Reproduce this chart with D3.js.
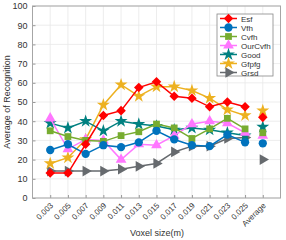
<!DOCTYPE html>
<html lang="en">
<head>
<meta charset="UTF-8">
<title>recognition</title>
<script src="https://cdn.jsdelivr.net/npm/d3@7"></script>
<style>
    body{ margin:0; background:#fff; }
    text{ font-family: "Liberation Sans", Arial, sans-serif; fill:#333; }
</style>
</head>
<body>
<script type="text/javascript">

    let categories = ["0.003","0.005","0.007","0.009","0.011","0.013","0.015","0.017","0.019","0.021","0.023","0.025","Average"];
    let yTicks = [0,10,20,30,40,50,60,70,80,90,100];

    let esf     = [13,13,28,43,45.5,57.5,60.5,53,52,47.5,50,47.5,42];
    let vfh     = [25,28,23,27.5,26.5,29,35,30.5,27.5,27,33,29,28.5];
    let cvfh    = [35,32,30,29.5,32.5,34.5,38.5,36.5,31,36,41.5,36,34];
    let ourCvfh = [41.5,25.5,30.5,30,20,28,27.5,32.5,38.5,40,39,34,32.5];
    let good    = [39,36.5,40,35,40,38.5,37.5,35.5,36.5,35.5,34,32.5,37];
    let gfpfg   = [18,21,30.5,48.5,59,53,58,58,56,52,46,43,45.5];
    let grsd    = [14,14,14,14,15,16.5,18,24,27,27,31,31.5,20];

    let series = [
        {name:"Esf",     values:esf,     color:"#ff0000", shape:"diamond"},
        {name:"Vfh",     values:vfh,     color:"#0072bd", shape:"circle"},
        {name:"Cvfh",    values:cvfh,    color:"#77ac30", shape:"square"},
        {name:"OurCvfh", values:ourCvfh, color:"#ff77ff", shape:"triangle"},
        {name:"Good",    values:good,    color:"#008080", shape:"star"},
        {name:"Gfpfg",   values:gfpfg,   color:"#edb120", shape:"star"},
        {name:"Grsd",    values:grsd,    color:"#666a6e", shape:"right"}
    ];

    let width = 286, height = 240;
    let pLeft = 32.5, pRight = 280.5, pTop = 6, pBottom = 198;

    let svg = d3.select("body").append("svg")
        .attr("width", width)
        .attr("height", height);

    let x = d3.scaleLinear().domain([-1, categories.length]).range([pLeft, pRight]);
    let y = d3.scaleLinear().domain([0, 100]).range([pBottom, pTop]);

    // grid
    svg.append("g").selectAll("line").data(categories).join("line")
        .attr("x1", (d,i)=>x(i)).attr("x2", (d,i)=>x(i))
        .attr("y1", pTop).attr("y2", pBottom)
        .attr("stroke", "#e8e8e8").attr("stroke-width", 0.8);
    svg.append("g").selectAll("line").data(yTicks).join("line")
        .attr("x1", pLeft).attr("x2", pRight)
        .attr("y1", d=>y(d)).attr("y2", d=>y(d))
        .attr("stroke", "#e8e8e8").attr("stroke-width", 0.8);

    // y axis
    let yAxis = d3.axisLeft(y).tickValues(yTicks).tickSize(-3).tickPadding(5);
    let yg = svg.append("g").attr("transform", `translate(${pLeft},0)`).call(yAxis);
    yg.select(".domain").remove();
    yg.selectAll("line").attr("stroke", "#999");
    yg.selectAll("text").attr("font-size", 9).attr("fill", "#333");

    // x axis
    let xAxis = d3.axisBottom(x).tickValues(d3.range(categories.length))
        .tickFormat(i=>categories[i]).tickSize(-3);
    let xg = svg.append("g").attr("transform", `translate(0,${pBottom})`).call(xAxis);
    xg.select(".domain").remove();
    xg.selectAll("line").attr("stroke", "#999");
    xg.selectAll("text")
        .attr("font-size", 8).attr("fill", "#333")
        .attr("text-anchor", "end")
        .attr("dy", null).attr("y", 0)
        .attr("transform", "translate(3,8) rotate(-45)");

    // frame
    svg.append("rect")
        .attr("x", pLeft).attr("y", pTop)
        .attr("width", pRight-pLeft).attr("height", pBottom-pTop)
        .attr("fill", "none").attr("stroke", "#a6a6a6").attr("stroke-width", 1);

    // labels
    svg.append("text")
        .attr("transform", `translate(10,${(pTop+pBottom)/2}) rotate(-90)`)
        .attr("text-anchor", "middle").attr("font-size", 9)
        .text("Average of Recognition");
    svg.append("text")
        .attr("x", 157).attr("y", 236)
        .attr("text-anchor", "middle").attr("font-size", 9)
        .text("Voxel size(m)");

    let shapePath = (shape)=>{
        if(shape=="diamond") return d3.symbol(d3.symbolDiamond2, 58)();
        if(shape=="circle") return d3.symbol(d3.symbolCircle, 54)();
        if(shape=="square") return d3.symbol(d3.symbolSquare, 46)();
        if(shape=="triangle") return d3.symbol(d3.symbolTriangle, 50)();
        if(shape=="star") return d3.symbol(d3.symbolStar, 52)();
        if(shape=="right") return d3.symbol(d3.symbolTriangle, 50)();
    };
    let shapeRotate = (shape)=> shape=="right" ? " rotate(90)" : "";

    let line = d3.line().x((d,i)=>x(i)).y(d=>y(d));
    let nLine = categories.length - 1; // Average is not joined

    // draw in reverse so Esf is on top
    series.slice().reverse().forEach(s=>{
        let g = svg.append("g");
        g.append("path")
            .datum(s.values.slice(0, nLine))
            .attr("fill", "none")
            .attr("stroke", s.color)
            .attr("stroke-width", 1.5)
            .attr("d", line);
        g.selectAll("path.m").data(s.values).join("path")
            .attr("class", "m")
            .attr("d", shapePath(s.shape))
            .attr("transform", (d,i)=>`translate(${x(i)},${y(d)})` + shapeRotate(s.shape))
            .attr("fill", s.color);
    });

    // legend
    let lg = svg.append("g").attr("transform", "translate(217,14)");
    lg.append("rect")
        .attr("width", 56).attr("height", 62)
        .attr("fill", "#fff").attr("stroke", "#888").attr("stroke-width", 0.8);
    series.forEach((s,i)=>{
        let yy = 4.5 + i*9;
        lg.append("line")
            .attr("x1", 3).attr("x2", 20).attr("y1", yy).attr("y2", yy)
            .attr("stroke", s.color).attr("stroke-width", 1.5);
        lg.append("path")
            .attr("d", shapePath(s.shape))
            .attr("transform", `translate(11.5,${yy})` + shapeRotate(s.shape))
            .attr("fill", s.color);
        lg.append("text")
            .attr("x", 24).attr("y", yy + 3)
            .attr("font-size", 8)
            .text(s.name);
    });

</script>
</body>
</html>
